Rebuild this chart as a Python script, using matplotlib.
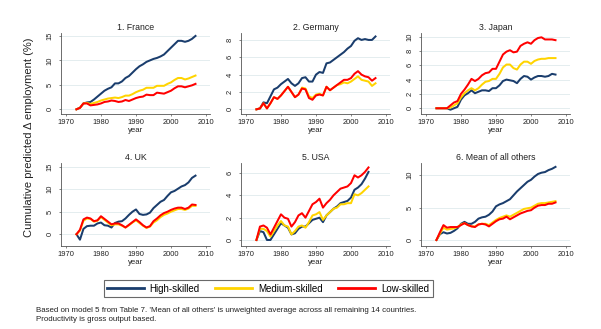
import numpy as np
import matplotlib
matplotlib.use("Agg")
import matplotlib.pyplot as plt
from matplotlib.lines import Line2D

plt.rcParams['font.family'] = ['Liberation Sans', 'DejaVu Sans']

# ---------------- data ----------------
years = list(range(1973, 2008))
years_usa = list(range(1973, 2006))

titles = ["1. France", "2. Germany", "3. Japan", "4. UK", "5. USA", "6. Mean of all others"]
series_names = ["High-skilled", "Medium-skilled", "Low-skilled"]

france_high = [0, 0.3, 1.2, 1.4, 1.5, 2.0, 2.6, 3.2, 3.8, 4.2, 4.5, 5.3, 5.3, 5.7, 6.4, 6.8, 7.5, 8.2,
               8.8, 9.2, 9.7, 10.0, 10.3, 10.5, 10.8, 11.2, 11.9, 12.6, 13.3, 14.0, 14.0, 13.8, 14.0, 14.4, 15.0]
france_med = [0, 0.3, 1.2, 1.3, 1.1, 1.3, 1.5, 1.8, 2.0, 2.2, 2.3, 2.4, 2.3, 2.5, 2.8, 2.8, 3.1, 3.5,
              3.8, 4.0, 4.4, 4.4, 4.4, 4.8, 4.8, 4.8, 5.2, 5.5, 6.0, 6.4, 6.4, 6.1, 6.3, 6.6, 6.9]
france_low = [0, 0.3, 1.2, 1.2, 0.8, 0.9, 1.0, 1.2, 1.5, 1.6, 1.8, 1.7, 1.5, 1.6, 1.9, 1.7, 2.0, 2.3,
              2.5, 2.6, 3.0, 2.9, 2.9, 3.4, 3.3, 3.2, 3.5, 3.8, 4.3, 4.7, 4.7, 4.5, 4.7, 4.9, 5.2]

germany_high = [0, 0.1, 0.8, 0.7, 1.5, 2.3, 2.5, 2.9, 3.2, 3.5, 3.0, 2.7, 3.0, 3.6, 3.7, 3.2, 3.2, 4.0,
                4.3, 4.2, 5.3, 5.4, 5.7, 6.0, 6.3, 6.6, 7.0, 7.3, 7.9, 8.2, 8.0, 8.1, 8.0, 8.0, 8.4]
germany_med = [0, 0.1, 0.7, 0.1, 0.7, 1.4, 1.2, 1.6, 2.1, 2.6, 2.0, 1.4, 1.7, 2.5, 2.4, 1.5, 1.3, 1.7,
               1.8, 1.6, 2.6, 2.2, 2.5, 2.8, 2.9, 3.1, 3.0, 3.2, 3.5, 3.8, 3.4, 3.3, 3.2, 2.7, 3.0]
germany_low = [0, 0.1, 0.7, 0.1, 0.7, 1.4, 1.2, 1.6, 2.1, 2.6, 2.0, 1.4, 1.7, 2.4, 2.3, 1.3, 1.1, 1.6,
               1.7, 1.6, 2.6, 2.2, 2.5, 2.8, 3.1, 3.4, 3.4, 3.6, 4.1, 4.4, 4.0, 3.8, 3.7, 3.3, 3.6]

japan_high = [0, 0, 0, 0, -0.2, 0.0, 0.2, 1.2, 1.8, 2.1, 2.5, 2.1, 2.3, 2.5, 2.5, 2.4, 2.8, 2.8,
              3.2, 3.8, 4.0, 3.9, 3.8, 3.5, 4.1, 4.5, 4.4, 4.0, 4.3, 4.5, 4.5, 4.4, 4.5, 4.8, 4.7]
japan_med = [0, 0, 0, 0, 0.1, 0.4, 0.7, 1.5, 2.1, 2.5, 2.8, 2.5, 2.8, 3.3, 3.7, 3.8, 4.1, 4.1,
             4.8, 5.7, 6.1, 6.1, 5.6, 5.4, 6.1, 6.5, 6.5, 6.2, 6.6, 6.8, 6.9, 6.9, 7.0, 7.0, 7.0]
japan_low = [0, 0, 0, 0, 0.4, 0.8, 1.0, 2.0, 2.6, 3.3, 4.1, 3.8, 4.1, 4.6, 4.9, 5.0, 5.5, 5.5,
             6.5, 7.5, 7.9, 8.1, 7.8, 7.9, 8.7, 9.0, 9.2, 9.0, 9.5, 9.8, 9.9, 9.6, 9.6, 9.6, 9.5]

uk_high = [0, -1.2, 1.2, 1.8, 1.9, 1.9, 2.4, 2.6, 2.0, 1.9, 1.5, 2.5, 2.8, 2.9, 3.5, 4.3, 5.0, 5.5,
           4.5, 4.3, 4.4, 4.8, 5.8, 6.5, 7.2, 7.6, 8.5, 9.3, 9.6, 10.1, 10.6, 10.9, 11.5, 12.5, 13.0]
uk_med = [0, 0.8, 3.0, 3.5, 3.4, 2.8, 3.0, 3.8, 3.2, 2.6, 2.0, 2.2, 2.2, 1.9, 1.5, 2.0, 2.6, 3.1,
          2.5, 1.9, 1.4, 1.7, 2.6, 3.1, 3.8, 4.3, 4.6, 5.0, 5.3, 5.6, 5.6, 5.4, 5.7, 6.3, 6.3]
uk_low = [0, 1.0, 3.3, 3.7, 3.5, 2.9, 3.1, 4.0, 3.4, 2.8, 2.2, 2.4, 2.4, 2.0, 1.5, 2.1, 2.7, 3.3,
          2.7, 2.0, 1.5, 1.8, 2.9, 3.5, 4.2, 4.7, 5.0, 5.4, 5.7, 5.9, 5.9, 5.6, 5.9, 6.6, 6.5]

usa_high = [0, 0.8, 0.7, 0.0, 0.0, 0.5, 1.0, 1.5, 1.3, 1.1, 0.5, 0.6, 1.0, 1.2, 1.2, 1.5, 1.8, 1.9,
            2.0, 1.6, 2.2, 2.5, 2.8, 3.0, 3.3, 3.4, 3.5, 3.8, 4.5, 4.7, 5.0, 5.5, 6.1]
usa_med = [0, 1.0, 1.0, 0.8, 0.3, 0.8, 1.3, 1.7, 1.3, 1.2, 0.5, 0.8, 1.2, 1.3, 1.1, 1.6, 2.2, 2.3,
           2.5, 1.8, 2.2, 2.5, 2.8, 2.9, 3.2, 3.2, 3.3, 3.3, 4.1, 4.0, 4.2, 4.5, 4.8]
usa_low = [0, 1.2, 1.3, 1.1, 0.5, 1.1, 1.7, 2.3, 2.0, 1.9, 1.2, 1.6, 2.2, 2.4, 2.0, 2.6, 3.2, 3.4,
           3.7, 2.9, 3.3, 3.6, 4.0, 4.3, 4.6, 4.7, 4.8, 5.1, 5.8, 5.6, 5.8, 6.1, 6.5]

others_high = [0, 0.9, 1.2, 1.0, 1.1, 1.4, 1.8, 2.5, 2.8, 2.5, 2.5, 2.8, 3.3, 3.5, 3.6, 3.9, 4.4, 5.2,
               5.5, 5.7, 6.0, 6.3, 6.9, 7.5, 8.0, 8.5, 9.0, 9.3, 9.8, 10.2, 10.4, 10.5, 10.8, 11.0, 11.3]
others_med = [0, 1.0, 1.9, 1.6, 1.7, 1.8, 2.0, 2.4, 2.6, 2.3, 2.1, 2.1, 2.4, 2.5, 2.5, 2.3, 2.7, 3.1,
              3.4, 3.6, 3.8, 3.6, 3.9, 4.2, 4.5, 4.8, 4.9, 5.0, 5.3, 5.6, 5.7, 5.7, 5.8, 5.9, 6.0]
others_low = [0, 1.2, 2.3, 1.9, 2.0, 2.0, 2.0, 2.3, 2.6, 2.3, 2.1, 2.0, 2.4, 2.5, 2.4, 2.1, 2.5, 2.9,
              3.2, 3.3, 3.6, 3.2, 3.5, 3.8, 4.1, 4.3, 4.5, 4.6, 5.0, 5.3, 5.4, 5.4, 5.6, 5.6, 5.8]

yticks = [[0, 5, 10, 15], [0, 2, 4, 6, 8], [0, 2, 4, 6, 8, 10],
          [0, 5, 10, 15], [0, 2, 4, 6], [0, 5, 10]]
ylims = [(-0.96, 15.6), (-0.54, 8.8), (-0.8, 10.5),
         (-2.6, 15.8), (-0.54, 6.9), (-0.93, 11.9)]
xticks = [1970, 1980, 1990, 2000, 2010]

footnote1 = "Based on model 5 from Table 7. 'Mean of all others' is unweighted average across all remaining 14 countries."
footnote2 = "Productivity is gross output based."
ylabel = "Cumulative predicted \u0394 employment (%)"

panels = [
    (years, france_high, france_med, france_low),
    (years, germany_high, germany_med, germany_low),
    (years, japan_high, japan_med, japan_low),
    (years, uk_high, uk_med, uk_low),
    (years_usa, usa_high, usa_med, usa_low),
    (years, others_high, others_med, others_low),
]

colors = ['#1a3d6d', '#ffd400', '#ff0000']

# ---------------- figure ----------------
W, H = 601, 329
fig = plt.figure(figsize=(W / 100, H / 100), dpi=100)
fig.patch.set_facecolor('white')

col_left = [60.7, 240.7, 420.7]
ax_w = 149.5
rows = [(33, 114), (163, 246)]

for i, (yrs, hi, me, lo) in enumerate(panels):
    r, c = divmod(i, 3)
    top, bot = rows[r]
    ax = fig.add_axes([col_left[c] / W, 1 - bot / H, ax_w / W, (bot - top) / H])
    for vals, col in zip((hi, me, lo), colors):
        ax.plot(yrs, vals, color=col, lw=1.45, solid_joinstyle='round')
    ax.set_xlim(1968.5, 2011.2)
    ax.set_ylim(*ylims[i])
    ax.set_xticks(xticks)
    ax.set_yticks(yticks[i])
    ax.grid(axis='y', color='#e4edef', lw=0.7)
    ax.set_axisbelow(True)
    for s in ('top', 'right'):
        ax.spines[s].set_visible(False)
    for s in ('left', 'bottom'):
        ax.spines[s].set_color('#555555')
        ax.spines[s].set_linewidth(0.6)
    ax.tick_params(axis='both', length=1.6, width=0.5, color='#555555',
                   labelsize=5.4, labelcolor='#222222')
    ax.tick_params(axis='x', pad=2.0)
    ax.tick_params(axis='y', pad=3.4, labelrotation=90)
    for lab in ax.get_yticklabels():
        lab.set_va('center')
    ax.set_xlabel('year', fontsize=5.6, labelpad=0.5, color='#222222')
    ax.set_title(titles[i], fontsize=6.3, pad=2.2, color='#222222')

fig.text(29 / W, 1 - 137 / H, ylabel, rotation=90, ha='center', va='center',
         fontsize=8.0, color='#222222')

handles = [Line2D([0], [0], color=col, lw=2.0) for col in colors]
leg = fig.legend(handles, series_names, loc='center', ncol=3,
                 bbox_to_anchor=(268 / W, 1 - 288.8 / H), fontsize=7.0,
                 handlelength=3.8, handletextpad=0.6, columnspacing=1.6,
                 borderpad=0.35, frameon=True, fancybox=False)
leg.get_frame().set_edgecolor('#444444')
leg.get_frame().set_linewidth(0.8)

fig.text(35.7 / W, 1 - 312 / H, footnote1, fontsize=5.7, va='baseline', ha='left', color='#222222')
fig.text(35.7 / W, 1 - 321 / H, footnote2, fontsize=5.7, va='baseline', ha='left', color='#222222')

fig.savefig('out.png', dpi=100, facecolor='white')
